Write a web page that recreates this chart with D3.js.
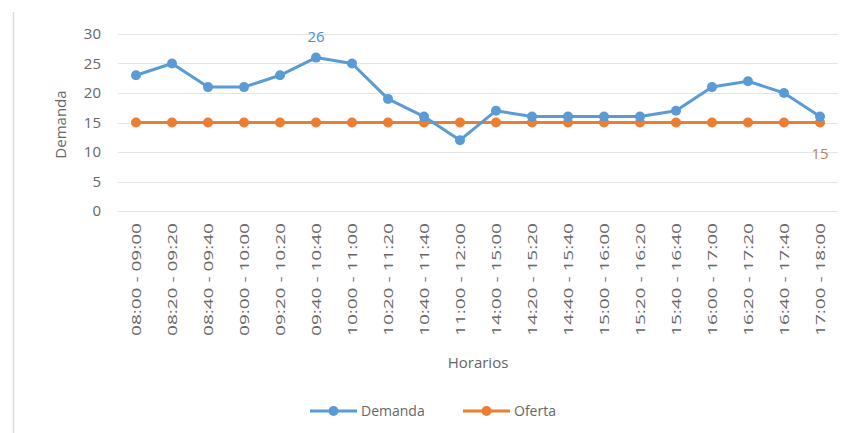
<!DOCTYPE html>
<html>
<head>
<meta charset="utf-8">
<script src="https://cdn.jsdelivr.net/npm/d3@7"></script>
<style>
  html, body { margin: 0; padding: 0; background: #fff; }
  svg { display: block; font-family: "Open Sans", "Liberation Sans", sans-serif; }
</style>
</head>
<body>
<svg id="chart" width="849" height="433"></svg>
<script>
// Time slots (x categories)
const horarios = [
  "08:00 - 09:00", "08:20 - 09:20", "08:40 - 09:40", "09:00 - 10:00",
  "09:20 - 10:20", "09:40 - 10:40", "10:00 - 11:00", "10:20 - 11:20",
  "10:40 - 11:40", "11:00 - 12:00", "14:00 - 15:00", "14:20 - 15:20",
  "14:40 - 15:40", "15:00 - 16:00", "15:20 - 16:20", "15:40 - 16:40",
  "16:00 - 17:00", "16:20 - 17:20", "16:40 - 17:40", "17:00 - 18:00"
];
// Demand per slot
const demanda = [23, 25, 21, 21, 23, 26, 25, 19, 16, 12, 17, 16, 16, 16, 16, 17, 21, 22, 20, 16];
// Offer per slot
const oferta = [15, 15, 15, 15, 15, 15, 15, 15, 15, 15, 15, 15, 15, 15, 15, 15, 15, 15, 15, 15];
// Y axis ticks
const yTicks = [0, 5, 10, 15, 20, 25, 30];

const svg = d3.select("#chart");
const blue = "#5b9bd5", orange = "#ed7d31";
const plotL = 118, plotR = 838, plotT = 34, plotB = 211;

// outer frame edge on the left
svg.append("line")
  .attr("x1", 13.5).attr("x2", 13.5).attr("y1", 12).attr("y2", 433)
  .attr("stroke", "#d9d9d9").attr("stroke-width", 1.5);

const x = d3.scaleBand().domain(horarios).range([plotL, plotR]);
const y = d3.scaleLinear().domain([0, 30]).range([plotB, plotT]);
const cx = d => x(d) + x.bandwidth() / 2;

// gridlines
svg.append("g").selectAll("line").data(yTicks).join("line")
  .attr("x1", plotL).attr("x2", plotR)
  .attr("y1", d => Math.round(y(d)) + 0.5).attr("y2", d => Math.round(y(d)) + 0.5)
  .attr("stroke", "#e4e4e4").attr("stroke-width", 1);

// y axis labels
const yAxis = svg.append("g")
  .attr("transform", `translate(${plotL - 17},0)`)
  .call(d3.axisLeft(y).tickValues(yTicks).tickSize(0).tickPadding(0));
yAxis.select(".domain").remove();
yAxis.selectAll("text")
  .attr("fill", "#666").attr("font-size", 15)
  .attr("font-family", "'Open Sans', sans-serif");

// x axis labels, rotated
const xAxis = svg.append("g")
  .attr("transform", `translate(0,${plotB})`)
  .call(d3.axisBottom(x).tickSize(0).tickPadding(0));
xAxis.select(".domain").remove();
xAxis.selectAll("text")
  .attr("fill", "#666").attr("font-size", 13)
  .attr("font-family", "'Open Sans', sans-serif")
  .attr("text-anchor", "end")
  .attr("dy", null)
  .attr("transform", "translate(5,12) rotate(-90)")
  .attr("textLength", 113).attr("lengthAdjust", "spacingAndGlyphs");

// axis titles
svg.append("text")
  .attr("transform", `translate(66,${(plotT + plotB) / 2 + 2}) rotate(-90)`)
  .attr("text-anchor", "middle").attr("fill", "#666").attr("font-size", 15)
  .text("Demanda");
svg.append("text")
  .attr("x", (plotL + plotR) / 2).attr("y", 368)
  .attr("text-anchor", "middle").attr("fill", "#666").attr("font-size", 15)
  .text("Horarios");

// series
const series = [
  { name: "Oferta", values: oferta, color: orange },
  { name: "Demanda", values: demanda, color: blue }
];
const line = d3.line().x((d, i) => cx(horarios[i])).y(d => y(d));
series.forEach(s => {
  const g = svg.append("g");
  g.append("path").datum(s.values)
    .attr("d", line).attr("fill", "none")
    .attr("stroke", s.color).attr("stroke-width", 3).attr("stroke-linejoin", "round");
  g.selectAll("circle").data(s.values).join("circle")
    .attr("cx", (d, i) => cx(horarios[i])).attr("cy", d => y(d))
    .attr("r", 5).attr("fill", s.color);
});

// data labels: demand peak and last offer value
const iMax = demanda.indexOf(d3.max(demanda));
svg.append("text")
  .attr("x", cx(horarios[iMax])).attr("y", y(demanda[iMax]) - 16)
  .attr("text-anchor", "middle").attr("fill", "#4a8cc8").attr("font-size", 15)
  .text(demanda[iMax]);
const iLast = oferta.length - 1;
svg.append("text")
  .attr("x", cx(horarios[iLast])).attr("y", y(oferta[iLast]) + 36)
  .attr("text-anchor", "middle").attr("fill", "#b7835a").attr("font-size", 15)
  .text(oferta[iLast]);

// legend
const legend = [
  { name: "Demanda", color: blue, x: 310 },
  { name: "Oferta", color: orange, x: 463 }
];
const lg = svg.append("g").attr("transform", "translate(0,411)");
legend.forEach(l => {
  lg.append("line").attr("x1", l.x).attr("x2", l.x + 47)
    .attr("stroke", l.color).attr("stroke-width", 3);
  lg.append("circle").attr("cx", l.x + 23.5).attr("r", 5).attr("fill", l.color);
  lg.append("text").attr("x", l.x + 51).attr("dy", "0.35em")
    .attr("fill", "#666").attr("font-size", 14).text(l.name);
});
</script>
</body>
</html>
